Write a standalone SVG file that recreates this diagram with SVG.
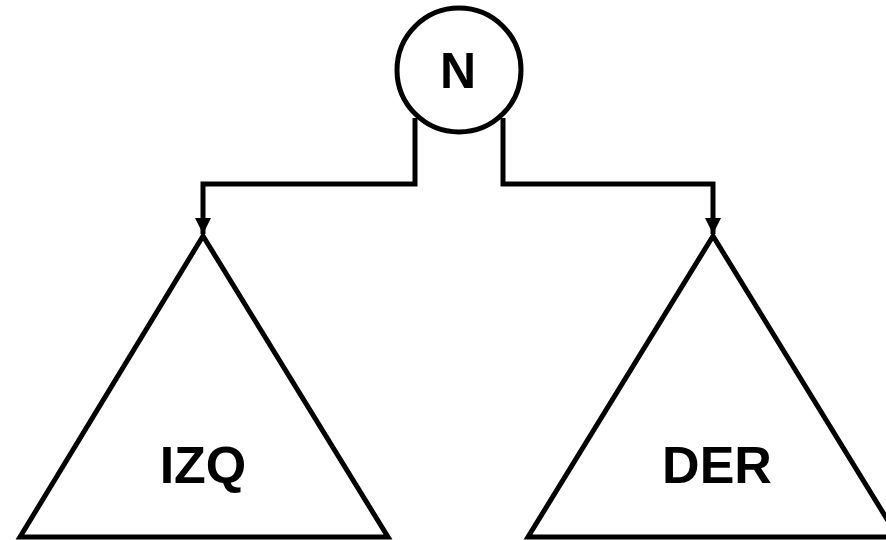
<svg xmlns="http://www.w3.org/2000/svg" width="886" height="540" viewBox="0 0 886 540">
<style>
.s{fill:none;stroke:#000;stroke-width:5}
.n{fill:#fff;stroke:#000;stroke-width:5}
.t{font-family:"Liberation Sans",Arial,sans-serif;font-weight:bold;fill:#000;text-anchor:middle}
</style>
<defs>
<marker id="ah" markerUnits="userSpaceOnUse" markerWidth="18" markerHeight="18" viewBox="0 0 18 18" refX="17" refY="9" orient="auto">
<path d="M1,1 L17,9 L1,17 Z" fill="#000"/>
</marker>
</defs>
<g id="connectors">
<path class="s" d="M415,118 V184 H203 V234" marker-end="url(#ah)"/>
<path class="s" d="M503,118 V184 H713 V234" marker-end="url(#ah)"/>
</g>
<g id="node-N">
<circle class="n" cx="459" cy="70" r="62"/>
<text class="t" x="458" y="88" font-size="50">N</text>
</g>
<g id="node-IZQ">
<path class="s" d="M203,236 L20,537 L388,537 Z"/>
<text class="t" x="203" y="483" font-size="52">IZQ</text>
</g>
<g id="node-DER">
<path class="s" d="M713,236 L528,537 L898,537 Z"/>
<text class="t" x="717" y="483" font-size="52">DER</text>
</g>
</svg>
